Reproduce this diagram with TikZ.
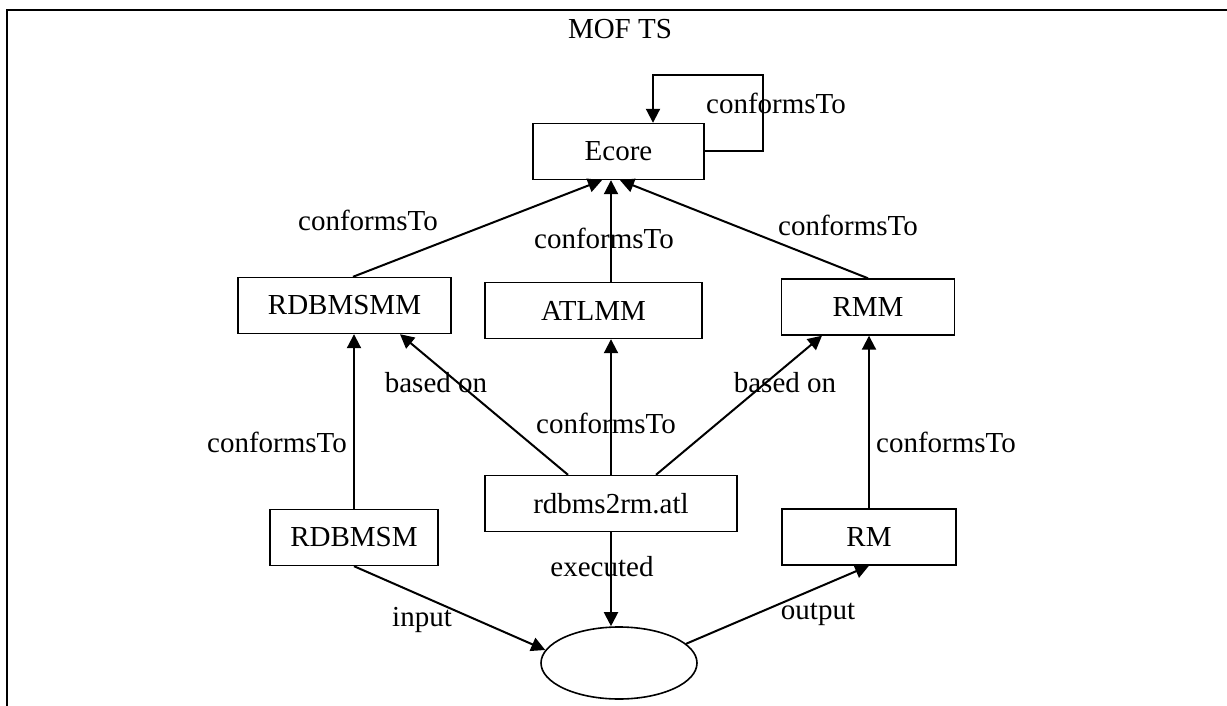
\documentclass[tikz,border=0pt]{standalone}
\usepackage{fontspec}
\setmainfont{Liberation Serif}
\usetikzlibrary{arrows.meta,shapes.geometric}

\begin{document}
\begin{tikzpicture}[x=0.5pt,y=-0.5pt,
        font=\fontsize{14.5}{17}\selectfont,
        box/.style={draw, line width=0.7pt, minimum height=28pt, inner sep=0pt},
        arr/.style={-{Triangle[length=7pt,width=7pt]}, line width=1pt},
        lbl/.style={inner sep=0pt}]
        \useasboundingbox (0,0) rectangle (1227,706);

        % Frame
        \draw[line width=1pt] (7,706) -- (7,10) -- (1227,10);
        \node[lbl] (title) at (620,29) {MOF TS};

        % Models
        \node[box, minimum width=85.5pt] (ecore) at (618.5,151.5) {Ecore};
        \node[box, minimum width=106.5pt] (rdbmsmm) at (344.5,305.5) {RDBMSMM};
        \node[box, minimum width=108.5pt] (atlmm) at (593.5,310.5) {ATLMM};
        \node[box, minimum width=86.5pt] (rmm) at (868,307) {RMM};
        \node[box, minimum width=126pt] (rdbms2rm) at (611,503.5) {rdbms2rm.atl};
        \node[box, minimum width=84pt] (rdbmsm) at (354,537.5) {RDBMSM};
        \node[box, minimum width=87pt] (rm) at (869,537) {RM};
        \node[draw, ellipse, line width=0.8pt, minimum width=78pt, minimum height=36pt,
            inner sep=0pt] (proc) at (619,663) {};

        % Ecore conforms to itself
        \draw[arr] (ecore.east) -- ++(58,0) -- ++(0,-76.5) -| ([xshift=17.25pt]ecore.north);
        \node[lbl] (selfLbl) at (776,103) {conformsTo};

        % Metamodels -> Ecore
        \draw[arr] ([xshift=4.25pt]rdbmsmm.north) -- ([xshift=-8.25pt]ecore.south);
        \draw[arr] (rdbms2rm.north |- atlmm.north) -- (rdbms2rm.north |- ecore.south);
        \draw[arr] (rmm.north) -- ([xshift=0.75pt]ecore.south);
        \node[lbl] (confA) at (368,220) {conformsTo};
        \node[lbl] (confB) at (604,238) {conformsTo};
        \node[lbl] (confC) at (848,225) {conformsTo};

        % Transformation
        \draw[arr] ([xshift=-21.5pt]rdbms2rm.north) -- ([xshift=27.75pt]rdbmsmm.south);
        \draw[arr] (rdbms2rm.north) -- (rdbms2rm.north |- atlmm.south);
        \draw[arr] ([xshift=22.5pt]rdbms2rm.north) -- ([xshift=-23pt]rmm.south);
        \node[lbl] (basedL) at (436,383) {based on};
        \node[lbl] (basedR) at (785,383) {based on};
        \node[lbl] (confD) at (606,423) {conformsTo};

        % Models -> metamodels
        \draw[arr] (rdbmsm.north) -- (rdbmsm.north |- rdbmsmm.south);
        \draw[arr] (rm.north) -- (rm.north |- rmm.south);
        \node[lbl] (confE) at (277,442) {conformsTo};
        \node[lbl] (confF) at (946,442) {conformsTo};

        % Execution
        \draw[arr] (rdbms2rm.south) -- (rdbms2rm.south |- proc.north);
        \draw[arr] (rdbmsm.south) -- (proc.170);
        \draw[arr] (proc.16) -- (rm.south);
        \node[lbl] (execLbl) at (602,567) {executed};
        \node[lbl] (inLbl) at (422,620) {input};
        \node[lbl] (outLbl) at (818,614) {output};
\end{tikzpicture}
\end{document}
